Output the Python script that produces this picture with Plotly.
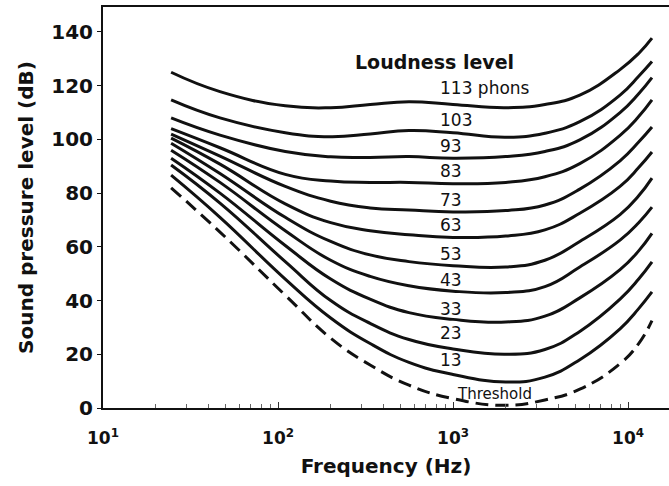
import numpy as np
import plotly.graph_objects as go

# Frequencies (Hz) at which the equal-loudness contours are sampled
freq_hz = [24.5, 46.6, 110, 200, 336, 560, 1000, 2000, 3350, 5300, 9000, 11500, 13700]

# Sound pressure level (dB) of each contour, keyed by loudness level (phons)
phon_levels = [113, 103, 93, 83, 73, 63, 53, 43, 33, 23, 13]
spl_113 = [125, 117.8, 112.5, 111.8, 113, 114, 113, 111.8, 113, 116.5, 126, 132, 137.7]
spl_103 = [114.7, 108, 102.5, 101, 102, 103.3, 102.5, 100.8, 102.3, 106.6, 116.5, 123.5, 129]
spl_93 = [108, 101.6, 95.5, 93.5, 93.3, 93.6, 93, 93.6, 95.5, 99.8, 110, 117, 123]
spl_83 = [104, 96.9, 87, 84.5, 84, 84, 83.5, 84, 86.1, 91, 101.5, 108.5, 114.7]
spl_73 = [102, 93.8, 82.5, 77, 74.5, 73.7, 73, 73.5, 75.6, 81.5, 92, 99, 104.6]
spl_63 = [100.5, 90.8, 76, 69, 66, 64.5, 63.5, 64, 66.3, 72.5, 82.5, 89.5, 95.3]
spl_53 = [98.6, 87.3, 71, 62, 57, 54.5, 53, 52.5, 55, 62, 72, 79, 85.6]
spl_43 = [96, 84, 66, 55, 49, 45.5, 43.5, 43, 45.2, 52.5, 62.5, 69, 74.8]
spl_33 = [93, 80, 60.5, 48, 40.5, 35.5, 33, 32, 34.2, 41, 51.5, 58.5, 65]
spl_23 = [90.5, 76.3, 54.5, 40, 31.5, 25.5, 22, 20, 21.8, 28.5, 40.5, 48, 54.4]
spl_13 = [86.7, 71, 48, 33.5, 24, 17, 12.5, 9.7, 11.5, 18, 29.5, 37, 43.2]
spl_threshold = [82, 65.5, 42, 26, 16, 8.5, 3.5, 1, 3, 7, 16.5, 24, 32.5]

contours = [spl_113, spl_103, spl_93, spl_83, spl_73, spl_63,
            spl_53, spl_43, spl_33, spl_23, spl_13]

# Axis tick values and labels
y_ticks = [0, 20, 40, 60, 80, 100, 120, 140]
x_ticks = [10, 100, 1000, 10000]
x_tick_text = ["10<sup>1</sup>", "10<sup>2</sup>", "10<sup>3</sup>", "10<sup>4</sup>"]
x_minor_ticks = [m * d for d in (10, 100, 1000) for m in range(2, 10)] + [20000]

FONT = "DejaVu Sans"
INK = "#111111"

fig = go.Figure()

for level, spl in zip(phon_levels, contours):
    fig.add_trace(go.Scatter(
        x=freq_hz, y=spl, mode="lines", name=f"{level} phons",
        line=dict(color=INK, width=3, shape="spline", smoothing=1.3),
        showlegend=False, hoverinfo="skip",
    ))

fig.add_trace(go.Scatter(
    x=freq_hz, y=spl_threshold, mode="lines", name="Threshold",
    line=dict(color=INK, width=3, shape="spline", smoothing=1.3, dash="13px,7px"),
    showlegend=False, hoverinfo="skip",
))

# Contour labels, stacked near 1 kHz just above each curve
label_x = np.log10(820)
label_y = [119.0, 107.3, 97.5, 88.4, 77.6, 68.1, 57.3, 47.5, 36.7, 28.1, 17.9]
annotations = [dict(
    x=np.log10(268), y=128.8, xref="x", yref="y", xanchor="left",
    yanchor="middle", showarrow=False, text="<b>Loudness level</b>",
    font=dict(family=FONT, size=19, color=INK))]
for i, (level, ly) in enumerate(zip(phon_levels, label_y)):
    txt = f"{level} phons" if i == 0 else f"{level}"
    annotations.append(dict(
        x=label_x, y=ly, xref="x", yref="y", xanchor="left", yanchor="middle",
        showarrow=False, text=txt, font=dict(family=FONT, size=17, color=INK)))
annotations.append(dict(
    x=np.log10(1025), y=5.2, xref="x", yref="y", xanchor="left",
    yanchor="middle", showarrow=False, text="Threshold",
    font=dict(family=FONT, size=15, color=INK)))

fig.update_layout(
    width=669, height=486,
    margin=dict(l=103, r=0, t=7, b=78),
    paper_bgcolor="white", plot_bgcolor="white",
    annotations=annotations,
    font=dict(family=FONT, color=INK),
)

fig.update_xaxes(
    type="log", range=[1, 4.234],
    tickvals=x_ticks, ticktext=x_tick_text,
    tickfont=dict(family=FONT, size=17, color=INK, weight="bold"),
    ticks="inside", ticklen=6, tickcolor="#333", tickwidth=1,
    ticklabelstandoff=14,
    minor=dict(tickvals=x_minor_ticks, ticks="inside", ticklen=4,
               tickcolor="#666", tickwidth=1, showgrid=False),
    showline=True, linecolor=INK, linewidth=2, mirror=True,
    showgrid=False, zeroline=False,
    title=dict(text="<b>Frequency (Hz)</b>",
               font=dict(family=FONT, size=20, color=INK), standoff=12),
)
fig.update_yaxes(
    range=[0, 149.3],
    tickvals=y_ticks,
    tickfont=dict(family=FONT, size=20, color=INK, weight="bold"),
    ticks="outside", ticklen=4, tickcolor=INK, tickwidth=1,
    showline=True, linecolor=INK, linewidth=2,
    showgrid=False, zeroline=False,
    title=dict(text="<b>Sound pressure level (dB)</b>",
               font=dict(family=FONT, size=20, color=INK), standoff=12),
)

fig.write_html("out.html")
